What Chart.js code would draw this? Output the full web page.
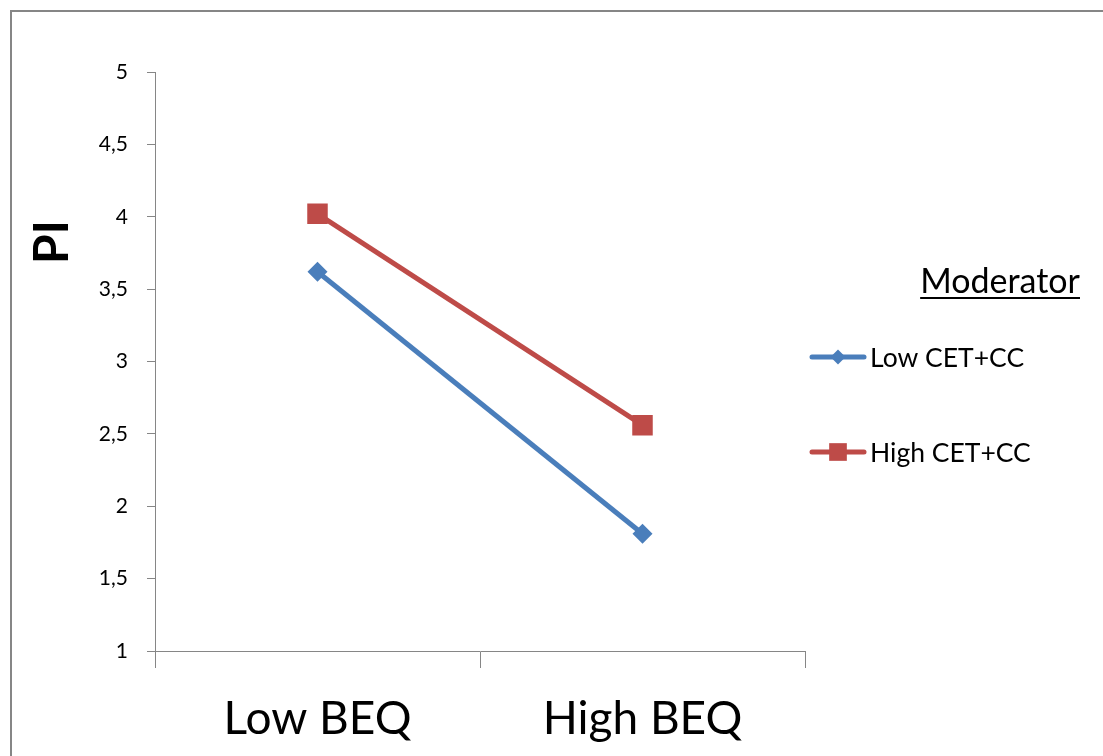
<!DOCTYPE html>
<html>
<head>
<meta charset="utf-8">
<script src="https://cdn.jsdelivr.net/npm/chart.js@4/dist/chart.umd.min.js"></script>
<style>
  html, body { margin: 0; padding: 0; background: #ffffff; }
  #wrap { position: relative; width: 1103px; height: 756px; }
</style>
</head>
<body>
<div id="wrap"><canvas id="chart" width="1103" height="756"></canvas></div>
<script>
// Interaction plot: purchase intention by BEQ level, split by moderator
const categories = ['Low BEQ', 'High BEQ'];
const seriesNames = ['Low CET+CC', 'High CET+CC'];
const lowCetCc = [3.62, 1.81];
const highCetCc = [4.02, 2.56];
const yMin = 1;
const yMax = 5;
const yStep = 0.5;
const yAxisTitle = 'PI';
const legendTitle = 'Moderator';

const FONT = 'Lato, "Open Sans", sans-serif';
const AXIS_GREY = '#868686';
const BLUE = '#4A7EBB';
const RED = '#BE4B48';

// Frame, rotated axis title and the legend block on the right
const decorations = {
  id: 'decorations',
  beforeDraw(chart) {
    const ctx = chart.ctx;
    ctx.save();
    ctx.fillStyle = '#ffffff';
    ctx.fillRect(0, 0, chart.width, chart.height);
    ctx.strokeStyle = AXIS_GREY;
    ctx.lineWidth = 2;
    ctx.beginPath();
    ctx.moveTo(11, chart.height + 5);
    ctx.lineTo(11, 11);
    ctx.lineTo(chart.width + 5, 11);
    ctx.stroke();
    ctx.restore();
  },
  afterDraw(chart) {
    const ctx = chart.ctx;
    ctx.save();
    // y axis title
    ctx.translate(53, 242);
    ctx.rotate(-Math.PI / 2);
    ctx.font = 'bold 48px ' + FONT;
    ctx.fillStyle = '#000000';
    ctx.textAlign = 'center';
    ctx.textBaseline = 'middle';
    ctx.fillText(yAxisTitle, 0, 0);
    ctx.restore();

    // legend title, underlined
    ctx.save();
    ctx.font = '34px ' + FONT;
    ctx.fillStyle = '#000000';
    ctx.textAlign = 'right';
    ctx.textBaseline = 'alphabetic';
    const titleRight = 1080;
    const titleBase = 293;
    ctx.fillText(legendTitle, titleRight, titleBase);
    const tw = ctx.measureText(legendTitle).width;
    ctx.fillRect(titleRight - tw, titleBase + 4, tw, 2);
    ctx.restore();

    // legend entries
    const rows = [357, 452];
    const markerRadius = [7.5, 12.5];
    chart.data.datasets.forEach((ds, i) => {
      const y = rows[i];
      ctx.save();
      ctx.strokeStyle = ds.borderColor;
      ctx.lineWidth = 5;
      ctx.lineCap = 'round';
      ctx.beginPath();
      ctx.moveTo(812, y);
      ctx.lineTo(864, y);
      ctx.stroke();
      ctx.fillStyle = ds.borderColor;
      ctx.strokeStyle = ds.borderColor;
      ctx.lineWidth = 0.01;
      Chart.helpers.drawPoint(ctx, { pointStyle: ds.pointStyle, radius: markerRadius[i], rotation: 0, borderWidth: 0 }, 838, y);
      ctx.font = '26.5px ' + FONT;
      ctx.fillStyle = '#000000';
      ctx.textAlign = 'left';
      ctx.textBaseline = 'middle';
      ctx.fillText(ds.label, 870, y + 1);
      ctx.restore();
    });
  }
};

new Chart(document.getElementById('chart'), {
  type: 'line',
  data: {
    labels: categories,
    datasets: [
      {
        label: seriesNames[0],
        data: lowCetCc,
        borderColor: BLUE,
        backgroundColor: BLUE,
        pointBackgroundColor: BLUE,
        pointBorderColor: BLUE,
        pointBorderWidth: 0,
        pointStyle: 'rectRot',
        pointRadius: 10,
        borderWidth: 5,
        tension: 0
      },
      {
        label: seriesNames[1],
        data: highCetCc,
        borderColor: RED,
        backgroundColor: RED,
        pointBackgroundColor: RED,
        pointBorderColor: RED,
        pointBorderWidth: 0,
        pointStyle: 'rect',
        pointRadius: 14.5,
        borderWidth: 5,
        tension: 0
      }
    ]
  },
  options: {
    responsive: false,
    animation: false,
    events: [],
    layout: { padding: { top: 72, right: 298, left: 0, bottom: 0 } },
    plugins: {
      legend: { display: false },
      tooltip: { enabled: false },
      title: { display: false }
    },
    scales: {
      x: {
        type: 'category',
        offset: true,
        grid: {
          offset: true,
          drawOnChartArea: false,
          drawTicks: true,
          tickLength: 17,
          color: AXIS_GREY,
          lineWidth: 1
        },
        border: { display: true, color: AXIS_GREY, width: 1 },
        ticks: {
          color: '#000000',
          font: { family: FONT, size: 46 },
          padding: 24,
          maxRotation: 0
        },
        afterFit(scale) { scale.height = 105; }
      },
      y: {
        min: yMin,
        max: yMax,
        grid: {
          drawOnChartArea: false,
          drawTicks: true,
          tickLength: 8,
          color: AXIS_GREY,
          lineWidth: 1
        },
        border: { display: true, color: AXIS_GREY, width: 1 },
        ticks: {
          stepSize: yStep,
          color: '#000000',
          font: { family: FONT, size: 21 },
          padding: 19,
          callback: (v) => String(v).replace('.', ',')
        },
        afterFit(scale) { scale.width = 155; }
      }
    }
  },
  plugins: [decorations]
});
</script>
</body>
</html>
